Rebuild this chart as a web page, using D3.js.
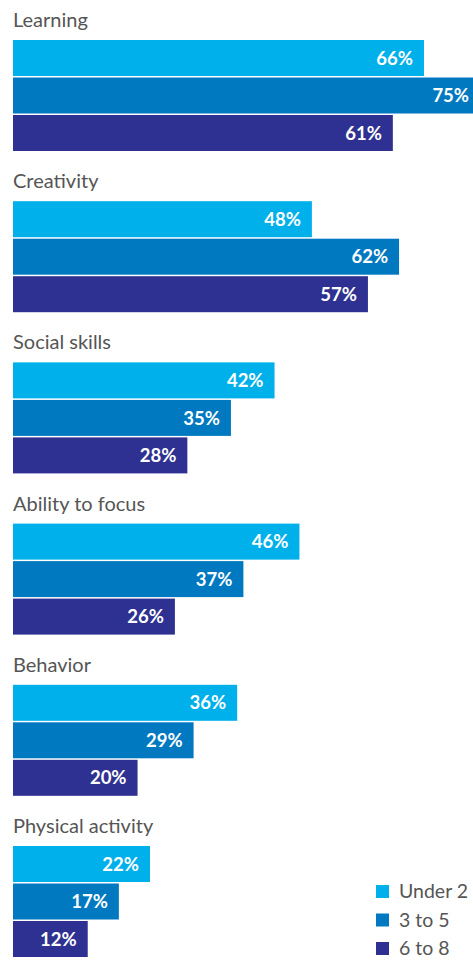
<!DOCTYPE html>
<html><head><meta charset="utf-8">
<script src="https://cdn.jsdelivr.net/npm/d3@7"></script>
<style>html,body{margin:0;padding:0;background:#fff;overflow:hidden}</style>
</head><body><div id="chart"></div>
<script>
const categories = ["Learning","Creativity","Social skills","Ability to focus","Behavior","Physical activity"];
const seriesNames = ["Under 2","3 to 5","6 to 8"];
const under2 = [66,48,42,46,36,22];
const age3to5 = [75,62,35,37,29,17];
const age6to8 = [61,57,28,26,20,12];
const colors = ["#00b0eb","#0079c1","#2e3191"];

const W = 473, H = 960;
const svg = d3.select("#chart").append("svg").attr("width", W).attr("height", H);
const series = [under2, age3to5, age6to8];

const x = d3.scaleLinear().domain([0, 100]).range([13, 13 + 622.7]);
const gy = d3.scaleBand().domain(categories).range([40, 40 + 161.2 * 6]).paddingInner(0).paddingOuter(0);
const by = d3.scaleBand().domain(seriesNames).range([0, 111]).paddingInner(0.04);

const groups = svg.selectAll("g.grp").data(categories).join("g")
  .attr("class","grp")
  .attr("transform", d => `translate(0,${gy(d)})`);

groups.append("text")
  .attr("x", 13).attr("y", -13)
  .attr("font-family","Lato, 'Open Sans', sans-serif")
  .attr("font-size", 20).attr("fill", "#555")
  .text(d => d);

groups.each(function(cat, ci) {
  const g = d3.select(this);
  seriesNames.forEach((s, si) => {
    const v = series[si][ci];
    g.append("rect")
      .attr("x", x(0)).attr("y", by(s))
      .attr("width", x(v) - x(0)).attr("height", by.bandwidth())
      .attr("fill", colors[si]);
    g.append("text")
      .attr("x", Math.min(x(v), W + 7) - 11)
      .attr("y", by(s) + by.bandwidth()/2)
      .attr("dy", "0.36em")
      .attr("text-anchor","end")
      .attr("font-family","Lato, 'Open Sans', sans-serif")
      .attr("font-weight","bold")
      .attr("font-size", 18.5).attr("fill","#fff")
      .text(v + "%");
  });
});

const legend = svg.append("g").attr("transform","translate(376,0)");
const ly = d3.scalePoint().domain(seriesNames).range([891, 948]);
seriesNames.forEach((s, i) => {
  legend.append("rect").attr("x", 0).attr("y", ly(s) - 6).attr("width", 13).attr("height", 13).attr("fill", colors[i]);
  legend.append("text").attr("x", 23).attr("y", ly(s)).attr("dy","0.36em")
    .attr("font-family","Lato, 'Open Sans', sans-serif")
    .attr("font-size", 19.5).attr("fill","#555").text(s);
});
</script></body></html>
